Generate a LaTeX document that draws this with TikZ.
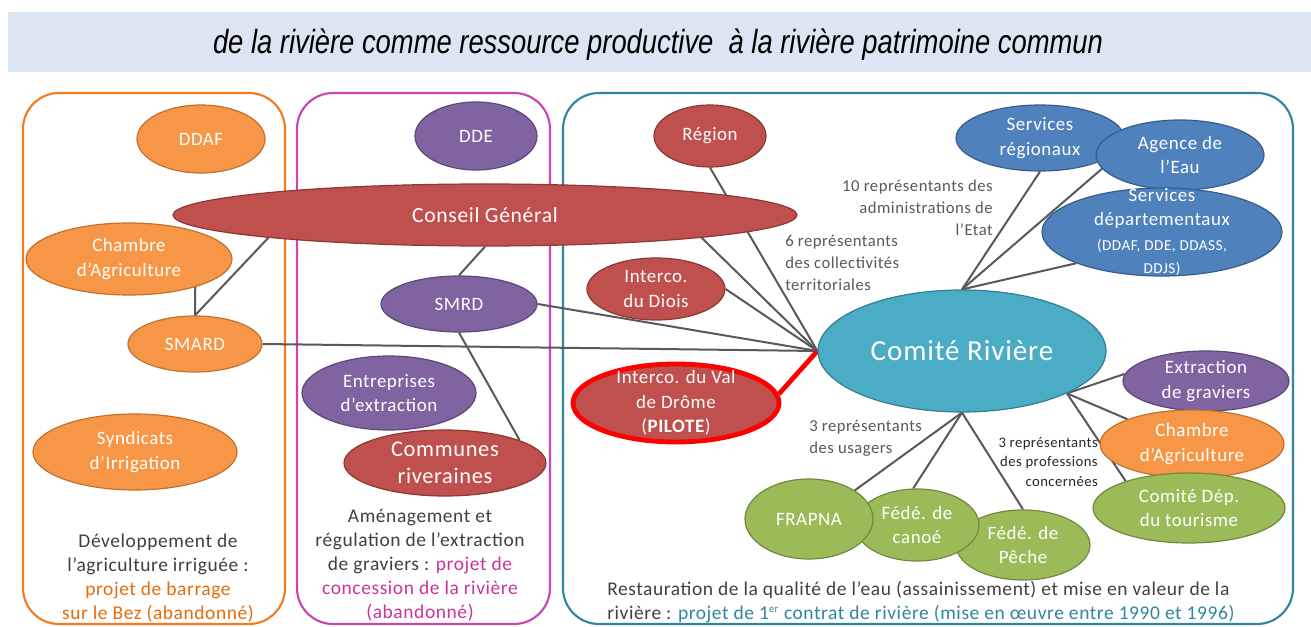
\documentclass[tikz,border=0pt]{standalone}
\usepackage{fontspec}
\setmainfont{Carlito}[LetterSpace=3]
\newfontfamily\titlefont{Liberation Sans}
\usetikzlibrary{shapes.geometric,backgrounds}
\definecolor{cOr}{HTML}{F79646}
\definecolor{cOrD}{HTML}{C0712F}
\definecolor{cRed}{HTML}{C0504D}
\definecolor{cRedD}{HTML}{8C3836}
\definecolor{cPu}{HTML}{8064A2}
\definecolor{cPuD}{HTML}{5C4776}
\definecolor{cBl}{HTML}{4F81BD}
\definecolor{cBlD}{HTML}{385D8A}
\definecolor{cTe}{HTML}{4BACC6}
\definecolor{cTeD}{HTML}{357D91}
\definecolor{cGr}{HTML}{9BBB59}
\definecolor{cGrD}{HTML}{71893F}
\definecolor{cLine}{HTML}{595959}
\definecolor{cLbl}{HTML}{595959}
\definecolor{cTxt}{HTML}{404040}
\definecolor{cBand}{HTML}{DCE6F2}
\definecolor{pOr}{HTML}{F47B20}
\definecolor{pMa}{HTML}{CC44B4}
\definecolor{pTe}{HTML}{31859C}
\definecolor{tOr}{HTML}{E46C0A}
\definecolor{tMa}{HTML}{CC3399}
\definecolor{tTe}{HTML}{31859C}
\definecolor{pilot}{HTML}{FF0000}
\newcommand{\enode}[8]{%
  \node[#6, minimum width=#4*1.5pt, minimum height=#5*1.5pt] (#1) at (#2,#3) {};
  \node[ntext,#7] (#1t) at (#1.center) {#8};}
\begin{document}
\begin{tikzpicture}[x=0.75pt,y=-0.75pt,
  ellbase/.style={ellipse, inner sep=0pt, line width=0.9pt},
  eor/.style={ellbase, fill=cOr, draw=cOrD},
  ered/.style={ellbase, fill=cRed, draw=cRedD},
  epu/.style={ellbase, fill=cPu, draw=cPuD},
  ebl/.style={ellbase, fill=cBl, draw=cBlD},
  ete/.style={ellbase, fill=cTe, draw=cTeD},
  egr/.style={ellbase, fill=cGr, draw=cGrD},
  epilot/.style={ellbase, fill=cRed, draw=pilot, line width=3.6pt},
  ntext/.style={text=white, align=center, inner sep=0pt, font=\fontsize{14.2}{18.5}\selectfont},
  lbl/.style={text=cLbl, inner sep=0pt, font=\fontsize{12.5}{16.2}\selectfont},
  btxt/.style={text=cTxt, inner sep=0pt, align=center, font=\fontsize{14.6}{18}\selectfont},
  link/.style={draw=cLine, line width=1.5pt},
  redlink/.style={draw=pilot, line width=3.6pt},
  panel/.style={rounded corners=27pt, line width=1.6pt}
]
\useasboundingbox (0,0) rectangle (1311,627);

% title
\fill[cBand] (8,12) rectangle (1311,72);
\node[inner sep=0pt, anchor=base] (title) at (658,54)
  {\resizebox{667.5pt}{18.5pt}{\titlefont\itshape de la rivière comme ressource productive\ \ à la rivière patrimoine commun}};

% left panel nodes
\enode{ddaf}{201}{139}{64}{34}{eor}{}{DDAF}
\enode{chl}{129}{259}{103}{36}{eor}{}{Chambre\\d’Agriculture}
\enode{smard}{195}{344}{67}{28}{eor}{}{SMARD}
\enode{syn}{135}{452}{102}{38}{eor}{}{Syndicats\\d’Irrigation}

% middle panel nodes
\enode{dde}{476}{136}{61}{34}{epu}{}{DDE}
\enode{cg}{485}{215}{312}{31}{ered}{font=\fontsize{16.2}{20}\selectfont}{Conseil Général}
\enode{smrd}{459}{304}{78}{28}{epu}{}{SMRD}
\enode{ent}{389}{393}{87}{37}{epu}{}{Entreprises\\d’extraction}
\enode{com}{445}{463}{101}{33}{ered}{font=\fontsize{16.8}{20}\selectfont}{Communes\\riveraines}

% right panel nodes
\enode{reg}{710}{136}{56}{31}{ered}{}{Région}
\enode{dio}{656}{289}{69}{31}{ered}{}{Interco.\\du Diois}
\enode{vdd}{676}{403}{103}{39}{epilot}{}{Interco. du Val\\de Drôme\\(\textbf{PILOTE})}
\enode{cr}{962}{351}{144}{61}{ete}{font=\fontsize{21.8}{26}\selectfont}{Comité Rivière}
\enode{sr}{1040}{138}{84}{33}{ebl}{}{Services\\régionaux}
\enode{ae}{1180}{155}{84}{35}{ebl}{}{Agence de\\l’Eau}
\enode{sd}{1162}{232}{120}{44}{ebl}{}{Services\\départementaux\\{\fontsize{11.4}{16}\selectfont (DDAF, DDE, DDASS,}\\[-1pt]{\fontsize{11.4}{16}\selectfont DDJS)}}
\enode{ex}{1206}{381}{83}{30}{epu}{}{Extraction\\de graviers}
\enode{chr}{1192}{444}{92}{34}{eor}{}{Chambre\\d’Agriculture}
\enode{tou}{1189}{508}{96}{35}{egr}{}{Comité Dép.\\du tourisme}
\enode{pe}{1023}{545}{67}{35}{egr}{}{Fédé. de\\Pêche}
\enode{ca}{917}{525}{62}{36}{egr}{}{Fédé. de\\canoé}
\enode{fr}{809}{519}{64}{40}{egr}{}{FRAPNA}

% labels
\node[lbl, align=right, anchor=north east] (l10) at (993,180)
  {10 représentants des\\administrations de\\l’Etat};
\node[lbl, align=left, anchor=north west, font=\fontsize{12.5}{16.5}\selectfont] (l6) at (785,235)
  {6 représentants\\des collectivités\\territoriales};
\node[lbl, align=left, anchor=north west, font=\fontsize{12.5}{16.5}\selectfont] (l3u) at (809,420)
  {3 représentants\\des usagers};
\node[lbl, align=right, anchor=north east, text=black!85, font=\fontsize{11}{14.6}\selectfont] (l3p) at (1098,437)
  {3 représentants\\des professions\\concernées};

% bottom texts
\node[btxt] (bl) at (158,578)
  {Développement de\\l’agriculture irriguée :\\\textcolor{tOr}{projet de barrage}\\\textcolor{tOr}{sur le Bez (abandonné)}};
\node[btxt] (bm) at (420,565)
  {Aménagement et\\régulation de l’extraction\\de graviers : \textcolor{tMa}{projet de}\\\textcolor{tMa}{concession de la rivière}\\\textcolor{tMa}{(abandonné)}};
\node[btxt, align=left, anchor=west] (br) at (607,602)
  {Restauration de la qualité de l’eau (assainissement) et mise en valeur de la\\rivière : \textcolor{tTe}{projet de 1\textsuperscript{\fontsize{8}{9}\selectfont er} contrat de rivière (mise en œuvre entre 1990 et 1996)}};

\begin{scope}[on background layer]
  \fill[white] (0,0) rectangle (1311,627);
  \fill[cBand] (8,12) rectangle (1311,72);
  \draw[panel, draw=pOr] (23,93) rectangle (285,624);
  \draw[panel, draw=pMa] (297,93) rectangle (550,624);
  \draw[panel, draw=pTe] (563,93) rectangle (1293,624);
  \draw[link] (cg.186) -- (smard.north);
  \draw[link] (chl.-23) -- (smard.north);
  \draw[link] (smard.east) -- (cr.west);
  \draw[link] (cg.south) -- (smrd.north);
  \draw[link] (smrd.east) -- (cr.west);
  \draw[link] (smrd.south) -- (com.17);
  \draw[link] (reg.south) -- (cr.west);
  \draw[link] (cg.-6) -- (cr.west);
  \draw[link] (dio.east) -- (cr.west);
  \draw[redlink] (vdd.5) -- (cr.west);
  \draw[link] (cr.north) -- (sr.south);
  \draw[link] (cr.north) -- (ae.190);
  \draw[link] (cr.north) -- (sd.200);
  \draw[link] (cr.-22) -- (ex.175);
  \draw[link] (cr.-22) -- (chr.159);
  \draw[link] (cr.-22) -- (tou.157);
  \draw[link] (cr.south) -- (fr.32);
  \draw[link] (cr.south) -- (ca.96);
  \draw[link] (cr.south) -- (pe.north);
\end{scope}
\end{tikzpicture}
\end{document}
